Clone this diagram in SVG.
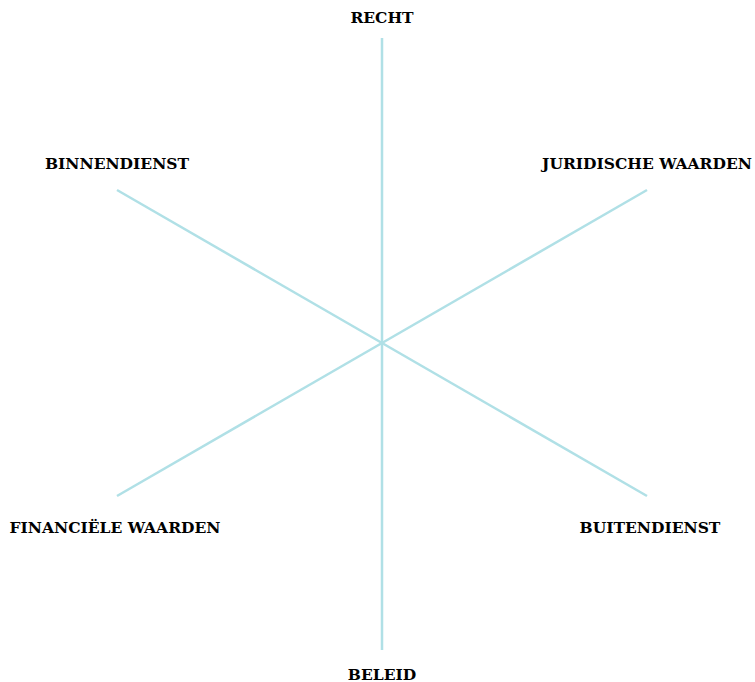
<svg xmlns="http://www.w3.org/2000/svg" width="755" height="682" viewBox="0 0 755 682">
<style>
.axis{stroke:#b0e0e6;stroke-width:2.5;fill:none}
.lbl{font-family:"DejaVu Serif","Liberation Serif",serif;font-weight:bold;font-size:15.5px;fill:#000;text-anchor:middle}
</style>
<rect width="755" height="682" fill="#fff"/>
<g id="connectors">
<line class="axis" x1="382" y1="38" x2="382" y2="650"/>
<line class="axis" x1="117" y1="190" x2="647" y2="496"/>
<line class="axis" x1="117" y1="496" x2="647" y2="190"/>
</g>
<g id="recht"><text class="lbl" x="382" y="23">RECHT</text></g>
<g id="juridische"><text class="lbl" x="647" y="169">JURIDISCHE WAARDEN</text></g>
<g id="buitendienst"><text class="lbl" x="650" y="533">BUITENDIENST</text></g>
<g id="beleid"><text class="lbl" x="382" y="680">BELEID</text></g>
<g id="financiele"><text class="lbl" x="115" y="533">FINANCIËLE WAARDEN</text></g>
<g id="binnendienst"><text class="lbl" x="117" y="169">BINNENDIENST</text></g>
</svg>
